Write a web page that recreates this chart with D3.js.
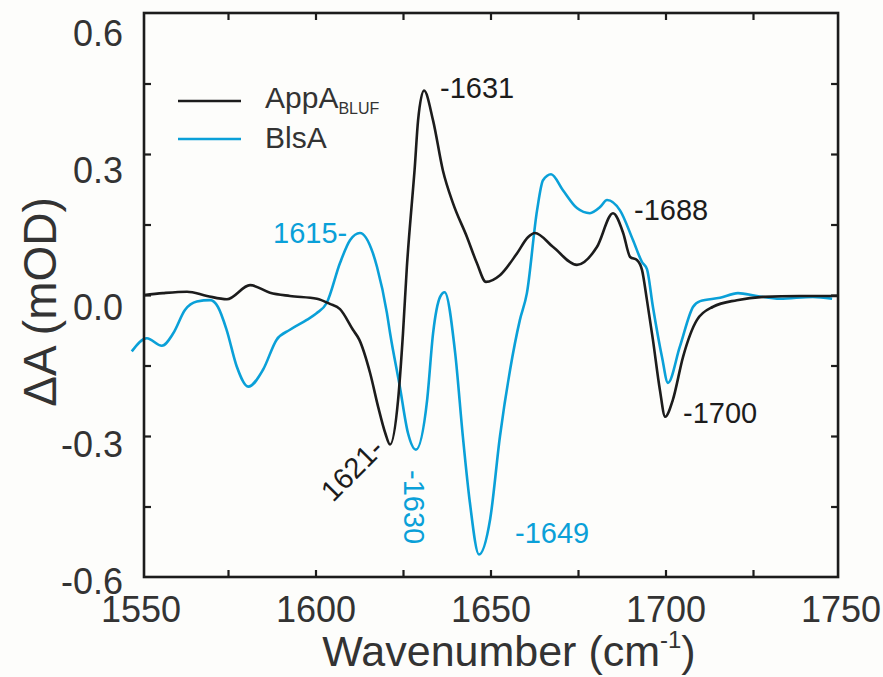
<!DOCTYPE html>
<html>
<head>
<meta charset="utf-8">
<script src="https://cdn.jsdelivr.net/npm/d3@7"></script>
<style>
  html, body { margin: 0; padding: 0; background: #fdfdfb; }
  svg { display: block; font-family: "Liberation Sans", Arial, sans-serif; }
</style>
</head>
<body>
<svg id="chart" width="883" height="677"></svg>
<script>
// FTIR difference spectra (light minus dark), wavenumber in cm^-1, dA in mOD
const appaWavenumber = [1551.0, 1556.4, 1563.3, 1569.0, 1574.7, 1581.3, 1587.0, 1592.7, 1600.4, 1604.1,
  1607.0, 1610.7, 1612.5, 1615.6, 1617.9, 1619.9, 1621.3, 1623.6, 1625.0, 1626.1,
  1627.6, 1628.3, 1629.3, 1631.0, 1633.6, 1636.4, 1639.3, 1643.3, 1646.1, 1648.7,
  1652.7, 1657.6, 1660.7, 1662.7, 1667.9, 1674.7, 1680.4, 1685.0, 1687.9, 1689.9,
  1691.9, 1693.3, 1694.7, 1696.4, 1698.4, 1699.9, 1702.1, 1705.0, 1709.0, 1713.6,
  1720.4, 1727.9, 1738.4, 1749.3];
const appaDA = [0.000, 0.004, 0.007, -0.002, -0.009, 0.021, 0.005, -0.002, -0.008, -0.019,
  -0.030, -0.074, -0.095, -0.166, -0.238, -0.293, -0.318, -0.223, -0.081, 0.059,
  0.202, 0.265, 0.371, 0.435, 0.371, 0.265, 0.195, 0.123, 0.068, 0.028,
  0.042, 0.089, 0.123, 0.132, 0.102, 0.064, 0.102, 0.174, 0.132, 0.081,
  0.074, 0.053, -0.011, -0.095, -0.202, -0.259, -0.223, -0.132, -0.053, -0.025,
  -0.011, -0.004, -0.002, -0.002];

const blsaWavenumber = [1547.5, 1551.8, 1556.1, 1559.4, 1562.7, 1566.1, 1569.9, 1572.1, 1574.6, 1577.5,
  1580.8, 1585.0, 1588.9, 1592.7, 1597.5, 1600.3, 1603.2, 1607.0, 1609.9, 1612.7,
  1616.4, 1617.6, 1620.4, 1621.3, 1624.1, 1626.4, 1628.7, 1631.9, 1633.6, 1635.6,
  1636.9, 1639.9, 1642.1, 1644.1, 1646.7, 1649.9, 1652.7, 1655.6, 1658.4, 1660.4,
  1663.3, 1665.0, 1667.3, 1670.7, 1674.7, 1678.4, 1681.3, 1683.3, 1687.0, 1690.7,
  1693.3, 1694.7, 1696.4, 1699.0, 1700.7, 1704.1, 1707.9, 1709.9, 1715.6, 1720.7,
  1726.1, 1732.7, 1742.1, 1747.6];
const blsaDA = [-0.120, -0.092, -0.108, -0.081, -0.032, -0.014, -0.011, -0.025, -0.074, -0.152,
  -0.195, -0.159, -0.095, -0.074, -0.053, -0.039, -0.017, 0.068, 0.117, 0.132,
  0.089, 0.059, -0.038, -0.081, -0.195, -0.293, -0.329, -0.223, -0.081, -0.004,
  0.006, -0.123, -0.301, -0.441, -0.552, -0.477, -0.301, -0.159, -0.053, 0.004,
  0.180, 0.244, 0.257, 0.223, 0.185, 0.174, 0.187, 0.202, 0.180, 0.117,
  0.070, 0.055, -0.025, -0.132, -0.187, -0.110, -0.025, -0.013, -0.006, 0.004,
  -0.002, -0.008, -0.004, -0.008];

const xMajorTicks = [1550, 1600, 1650, 1700, 1750];
const xAllTicks = [1575, 1600, 1625, 1650, 1675, 1700, 1725];
const yMajorTicks = [0.6, 0.3, 0.0, -0.3, -0.6];
const yAllTicks = [0.45, 0.3, 0.15, 0.0, -0.15, -0.3, -0.45];

// Peak annotations: [text, colour key]
const peakLabels = [
  { text: "-1631", series: "appa" },
  { text: "-1688", series: "appa" },
  { text: "-1700", series: "appa" },
  { text: "1621-", series: "appa" },
  { text: "1615-", series: "blsa" },
  { text: "-1630", series: "blsa" },
  { text: "-1649", series: "blsa" }
];

const colors = { appa: "#1c1c1c", blsa: "#0aa0d8" };

const svg = d3.select("#chart");

const x = d3.scaleLinear().domain([1550, 1750]).range([140.5, 840.5]);
const y = d3.scaleLinear().domain([-0.6, 0.6]).range([577, 13]);
// tick labels sit on a slightly compressed scale
const yLabel = d3.scaleLinear().domain([-0.6, 0.6]).range([582, 34]);

const frameLeft = x(1551), frameRight = x(1749.3), frameTop = y(0.6), frameBottom = y(-0.6);

// ticks (inward, on all four sides)
const tickLen = 7;
svg.append("g").attr("transform", `translate(0,${frameBottom})`)
  .call(d3.axisBottom(x).tickValues(xAllTicks).tickSizeInner(-tickLen).tickSizeOuter(0).tickFormat(""))
  .call(g => g.select(".domain").remove());
svg.append("g").attr("transform", `translate(0,${frameTop})`)
  .call(d3.axisTop(x).tickValues(xAllTicks).tickSizeInner(-tickLen).tickSizeOuter(0).tickFormat(""))
  .call(g => g.select(".domain").remove());
svg.append("g").attr("transform", `translate(${frameLeft},0)`)
  .call(d3.axisLeft(y).tickValues(yAllTicks).tickSizeInner(-tickLen).tickSizeOuter(0).tickFormat(""))
  .call(g => g.select(".domain").remove());
svg.append("g").attr("transform", `translate(${frameRight},0)`)
  .call(d3.axisRight(y).tickValues(yAllTicks).tickSizeInner(-tickLen).tickSizeOuter(0).tickFormat(""))
  .call(g => g.select(".domain").remove());
svg.selectAll(".tick line").attr("stroke", "#1c1c1c").attr("stroke-width", 2.2);

// tick labels
svg.append("g").attr("transform", `translate(0,${frameBottom})`)
  .call(d3.axisBottom(x).tickValues(xMajorTicks).tickSize(0).tickPadding(19).tickFormat(d3.format("d")))
  .call(g => g.select(".domain").remove())
  .selectAll("text").attr("font-size", 36).attr("fill", "#333").attr("font-family", "Liberation Sans, Arial, sans-serif");
svg.append("g").attr("transform", `translate(123,0)`)
  .call(d3.axisLeft(yLabel).tickValues(yMajorTicks).tickSize(0).tickPadding(0).tickFormat(d => d.toFixed(1)))
  .call(g => g.select(".domain").remove())
  .selectAll("text").attr("font-size", 36).attr("fill", "#333").attr("font-family", "Liberation Sans, Arial, sans-serif");

// spectra
const line = d3.line().curve(d3.curveMonotoneX);
const appaPts = appaWavenumber.map((w, i) => [x(w), y(appaDA[i])]);
const blsaPts = blsaWavenumber.map((w, i) => [x(w), y(blsaDA[i])]);
svg.append("path").attr("d", line(blsaPts)).attr("fill", "none")
  .attr("stroke", colors.blsa).attr("stroke-width", 2.6).attr("stroke-linejoin", "round");
svg.append("path").attr("d", line(appaPts)).attr("fill", "none")
  .attr("stroke", colors.appa).attr("stroke-width", 2.6).attr("stroke-linejoin", "round");

// frame
svg.append("rect").attr("x", frameLeft).attr("y", frameTop)
  .attr("width", frameRight - frameLeft).attr("height", frameBottom - frameTop)
  .attr("fill", "none").attr("stroke", "#1c1c1c").attr("stroke-width", 2.6);

// legend
const legend = svg.append("g");
legend.append("line").attr("x1", 178).attr("x2", 241).attr("y1", 101).attr("y2", 101)
  .attr("stroke", colors.appa).attr("stroke-width", 2.6);
legend.append("line").attr("x1", 178).attr("x2", 241).attr("y1", 139).attr("y2", 139)
  .attr("stroke", colors.blsa).attr("stroke-width", 2.6);
const t1 = legend.append("text").attr("x", 265).attr("y", 108).attr("font-size", 30).attr("fill", "#333");
t1.append("tspan").text("AppA");
t1.append("tspan").attr("dy", 6).attr("font-size", 16).text("BLUF");
legend.append("text").attr("x", 265).attr("y", 148).attr("font-size", 30).attr("fill", "#333").text("BlsA");

// peak annotations
const labelPos = {
  "-1631": { x: 440, y: 98, r: 0 },
  "-1688": { x: 634, y: 220, r: 0 },
  "-1700": { x: 683, y: 423, r: 0 },
  "1621-": { x: 333, y: 503, r: -45 },
  "1615-": { x: 273, y: 243, r: 0 },
  "-1630": { x: 404, y: 470, r: 90 },
  "-1649": { x: 515, y: 543, r: 0 }
};
svg.append("g").selectAll("text").data(peakLabels).join("text")
  .attr("transform", d => { const p = labelPos[d.text]; return `translate(${p.x},${p.y}) rotate(${p.r})`; })
  .attr("font-size", 29)
  .attr("fill", d => d.series === "blsa" ? colors.blsa : "#1c1c1c")
  .text(d => d.text);

// axis titles
const xt = svg.append("text").attr("x", 509).attr("y", 666).attr("text-anchor", "middle")
  .attr("font-size", 43).attr("fill", "#333");
xt.append("tspan").text("Wavenumber (cm");
xt.append("tspan").attr("dy", -18).attr("font-size", 24).text("-1");
xt.append("tspan").attr("dy", 18).text(")");

svg.append("text").attr("transform", "translate(56,302) rotate(-90)").attr("text-anchor", "middle")
  .attr("font-size", 46).attr("fill", "#333").text("ΔA (mOD)");
</script>
</body>
</html>
